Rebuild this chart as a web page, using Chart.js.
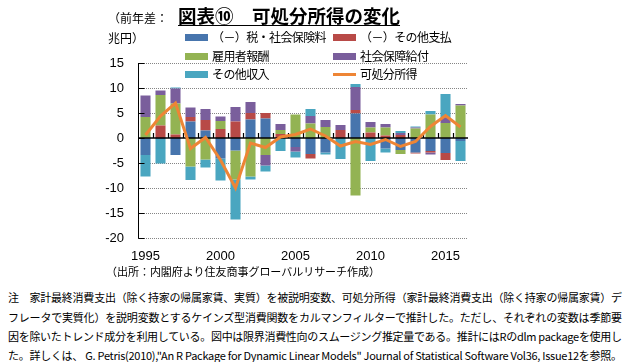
<!DOCTYPE html>
<html><head><meta charset="utf-8">
<script src="https://cdn.jsdelivr.net/npm/chart.js@4/dist/chart.umd.min.js"></script>
<style>
html,body{margin:0;padding:0;background:#fff;width:637px;height:362px;overflow:hidden;font-family:"Noto Sans CJK JP","Noto Sans",sans-serif;color:#000}
#wrap{position:relative;width:637px;height:362px}
#c{position:absolute;left:0;top:0}
.t{position:absolute;white-space:nowrap;line-height:1}
#title{left:178px;top:6px;font-size:18.5px;font-weight:bold;text-decoration:underline;text-underline-offset:2px}
#unit1{left:108px;top:12px;font-size:12px}
#unit2{left:108px;top:32px;font-size:12px}
.lg{position:absolute;height:14px}
.sw{position:absolute;left:0;width:23px}
.lt{position:absolute;left:27px;top:0;font-size:12px;line-height:14px;white-space:nowrap}
#src{left:106px;top:266px;font-size:11px}
.note{left:8px;font-size:11px}
</style></head>
<body><div id="wrap">
<canvas id="c" width="637" height="270"></canvas>
<div class="t" id="unit1">（前年差：</div>
<div class="t" id="unit2">兆円）</div>
<div class="t" id="title">図表⑩　可処分所得の変化</div>
<div id="legend"></div>
<div class="t fit" id="src" data-w="274">（出所：内閣府より住友商事グローバルリサーチ作成）</div>
<div class="t note fit" style="top:292px" data-w="614">注　家計最終消費支出（除く持家の帰属家賃、実質）を被説明変数、可処分所得（家計最終消費支出（除く持家の帰属家賃）デ</div>
<div class="t note fit" style="top:312px" data-w="614">フレータで実質化）を説明変数とするケインズ型消費関数をカルマンフィルターで推計した。ただし、それぞれの変数は季節要</div>
<div class="t note fit" style="top:331px" data-w="614">因を除いたトレンド成分を利用している。図中は限界消費性向のスムージング推定量である。推計にはRのdlm packageを使用し</div>
<div class="t note fit" style="top:350px" data-w="614">た。詳しくは、 G. Petris(2010),"An R Package for Dynamic Linear Models" Journal of Statistical Software Vol36, Issue12を参照。</div>
</div>
<script>
// ---- data ----
const years = [1995,1996,1997,1998,1999,2000,2001,2002,2003,2004,2005,2006,2007,2008,2009,2010,2011,2012,2013,2014,2015,2016];
const xTickLabels = ['1995','','','','','2000','','','','','2005','','','','','2010','','','','','2015',''];
const yTicks = [-20,-15,-10,-5,0,5,10,15];
const seriesNames = ['（－）税・社会保険料','（－）その他支払','雇用者報酬','社会保障給付','その他収入','可処分所得'];
const taxSocial   = [-3.4,-0.2,-3.4, 3.3, 1.5,-4.1,-2.5, 3.7, 3.9, 0.0,-1.8,-3.2,-2.9, 0.0, 4.9, 0.0,-2.1,-2.4,-2.9,-2.6,-3.0,-0.6];
const otherPay    = [ 0.0, 2.5, 0.7, 0.9, 2.1, 1.8, 3.3, 1.3, 1.1, 0.8, 0.0,-0.9, 0.0, 1.6, 0.7, 1.1, 0.5, 0.6,-0.2,-0.3,-1.4, 0.0];
const wages       = [ 4.2, 6.1, 6.2,-5.7,-4.3, 1.6,-5.8,-7.7,-3.4, 0.8, 4.7, 2.9, 2.2, 0.0,-11.5,1.0, 1.6,-0.8, 1.9, 4.7, 3.0, 6.5];
const socialBen   = [ 4.3, 0.9, 3.0, 1.9, 2.2, 0.9, 2.9, 2.2,-2.1, 1.2,-0.9, 1.5, 1.4, 1.0, 4.6, 1.1, 0.7, 0.4, 0.2,-0.4, 1.0, 0.3];
const otherInc    = [-4.3,-4.9, 0.2,-2.7,-1.6,-4.4,-8.0,-0.6,-1.2,-2.6,-1.2, 1.4,-0.4,-4.2, 0.6,-4.6,-0.8, 0.4, 0.2, 0.7, 4.8,-4.0];
const disposable  = [ 0.6, 4.4, 7.0,-2.1, 0.1,-4.4,-10.0,-1.0,-1.9,0.2, 0.7, 1.8, 0.4,-1.6,-0.7,-1.3,-0.3,-1.7,-0.7, 2.3, 4.5, 2.2];

const colors = ['#4775AD','#B84A47','#93B353','#7A5E9C','#4AA6C0','#EE8535'];
const barSeries = [taxSocial, otherPay, wages, socialBen, otherInc];

const datasets = barSeries.map((d,i)=>({
  type:'bar', label:seriesNames[i], data:d, backgroundColor:colors[i], borderWidth:0,
  stack:'s', order:1, barPercentage:0.67, categoryPercentage:1
}));
datasets.push({type:'line', label:seriesNames[5], data:disposable, borderColor:colors[5], backgroundColor:colors[5],
  borderWidth:3, pointRadius:0, tension:0, order:0});

const deco = {
  id:'deco',
  beforeDatasetsDraw(chart){
    const {ctx, chartArea:a, scales:{y}} = chart;
    ctx.save();
    ctx.strokeStyle='#858585'; ctx.lineWidth=1; ctx.setLineDash([1,1]);
    yTicks.forEach(v=>{ if(v===0) return;
      const py=Math.round(y.getPixelForValue(v))+0.5;
      ctx.beginPath(); ctx.moveTo(a.left,py); ctx.lineTo(a.right,py); ctx.stroke(); });
    ctx.restore();
  },
  beforeDatasetDraw(chart,args){
    if(chart.data.datasets[args.index].type!=='line') return;
    const {ctx, chartArea:a, scales:{x,y}} = chart;
    ctx.save();
    ctx.strokeStyle='#000'; ctx.setLineDash([]);
    const ax=Math.round(a.left)+0.5;
    ctx.lineWidth=1; ctx.beginPath(); ctx.moveTo(ax,a.top); ctx.lineTo(ax,a.bottom+0.5); ctx.stroke();
    yTicks.forEach(v=>{ const py=Math.round(y.getPixelForValue(v))+0.5;
      ctx.beginPath(); ctx.moveTo(ax,py); ctx.lineTo(ax+6,py); ctx.stroke(); });
    const y0=y.getPixelForValue(0);
    ctx.lineWidth=1.6; ctx.beginPath(); ctx.moveTo(a.left,y0); ctx.lineTo(a.right,y0); ctx.stroke();
    ctx.lineWidth=1.2;
    for(let i=1;i<years.length;i++){
      const bx=Math.round((x.getPixelForValue(i-1)+x.getPixelForValue(i))/2)+0.5;
      ctx.beginPath(); ctx.moveTo(bx,y0); ctx.lineTo(bx,y0-5); ctx.stroke();
    }
    ctx.restore();
  }
};

const chart = new Chart(document.getElementById('c'), {
  data:{labels:years.map(String), datasets},
  options:{
    animation:false, responsive:false, devicePixelRatio:1,
    layout:{padding:{left:90,right:169,top:63,bottom:0}},
    plugins:{legend:{display:false}, tooltip:{enabled:false}},
    scales:{
      x:{stacked:true, grid:{display:false,drawTicks:false}, border:{display:false},
         ticks:{autoSkip:false,maxRotation:0,minRotation:0,padding:11,color:'#000',
                font:{family:'"Liberation Sans", Arial, sans-serif',size:13},
                callback:(v,i)=>xTickLabels[i]},
         afterFit:s=>{s.height=32;}},
      y:{stacked:true, min:-20, max:15,
         afterBuildTicks:s=>{s.ticks=yTicks.map(v=>({value:v}));},
         grid:{display:false,drawTicks:false}, border:{display:false},
         ticks:{padding:14,color:'#000',font:{family:'"Liberation Sans", Arial, sans-serif',size:13}},
         afterFit:s=>{s.width=48;}}
    }
  },
  plugins:[deco]
});

const lg=document.getElementById('legend');
const colX=[185,333], rowY=[30,48.5,67];
chart.data.datasets.forEach((ds,i)=>{
  const item=document.createElement('div'); item.className='lg';
  item.style.left=colX[i%2]+'px'; item.style.top=rowY[Math.floor(i/2)]+'px';
  const sw=document.createElement('div'); sw.className='sw';
  if(ds.type==='line'){ sw.style.height='3px'; sw.style.top='6px'; }
  else { sw.style.height='7px'; sw.style.top='4px'; }
  sw.style.background=ds.type==='line'?ds.borderColor:ds.backgroundColor;
  const tx=document.createElement('div'); tx.className='lt'; tx.textContent=ds.label;
  tx.style.letterSpacing='-0.6px';
  item.appendChild(sw); item.appendChild(tx); lg.appendChild(item);
});

function fit(){
  document.querySelectorAll('.fit').forEach(el=>{
    el.style.letterSpacing='0px';
    const w=el.getBoundingClientRect().width;
    const n=[...el.textContent].length;
    const target=+el.dataset.w;
    el.style.letterSpacing=((target-w)/(n-1))+'px';
  });
}
fit();
if(document.fonts&&document.fonts.ready) document.fonts.ready.then(fit);
</script>
</body></html>
